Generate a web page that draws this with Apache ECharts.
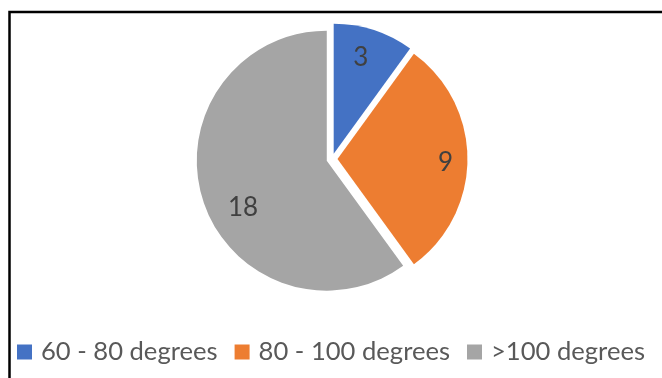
<!DOCTYPE html>
<html>
<head>
<meta charset="utf-8">
<script src="https://cdn.jsdelivr.net/npm/echarts@6/dist/echarts.min.js"></script>
<style>
  html, body { margin: 0; padding: 0; background: #fff; }
  #chart { width: 662px; height: 378px; }
</style>
</head>
<body>
<div id="chart"></div>
<script>
// data
const categories = ['60 - 80 degrees', '80 - 100 degrees', '>100 degrees']
const counts = [3, 9, 18]
const colors = ['#4472C4', '#ED7D31', '#A5A5A5']
// nudges so the numbers sit where Excel put them
const labelOffsets = [[6, -31], [40, 4], [-19, 26]]

const chart = echarts.init(document.getElementById('chart'))

const option = {
  animation: false,
  textStyle: { fontFamily: 'Lato' },
  graphic: [{
    type: 'rect',
    shape: { x: 9.5, y: 12, width: 700, height: 420 },
    style: { fill: 'none', stroke: '#000', lineWidth: 2.5 },
    silent: true
  }],
  legend: {
    top: 334,
    left: 'center',
    itemWidth: 15,
    itemHeight: 15,
    itemGap: 17,
    icon: 'rect',
    selectedMode: false,
    textStyle: { fontSize: 25.6, color: '#595959', fontFamily: 'Lato', padding: [0, 0, 0, 4] },
    data: categories
  },
  series: [{
    type: 'pie',
    center: [332, 159],
    radius: 130,
    startAngle: 90,
    clockwise: true,
    selectedMode: 'multiple',
    selectedOffset: 5.5,
    silent: true,
    select: { itemStyle: { borderWidth: 0 } },
    label: {
      show: true,
      position: 'inside',
      formatter: '{c}',
      fontSize: 26,
      color: '#404040',
      fontFamily: 'Lato'
    },
    labelLine: { show: false },
    labelLayout: function (params) {
      const off = labelOffsets[params.dataIndex]
      return { dx: off[0], dy: off[1] }
    },
    data: categories.map((name, i) => ({
      name: name,
      value: counts[i],
      selected: true,
      itemStyle: { color: colors[i] },
      select: { itemStyle: { color: colors[i] } }
    }))
  }]
}

chart.setOption(option)
</script>
</body>
</html>
